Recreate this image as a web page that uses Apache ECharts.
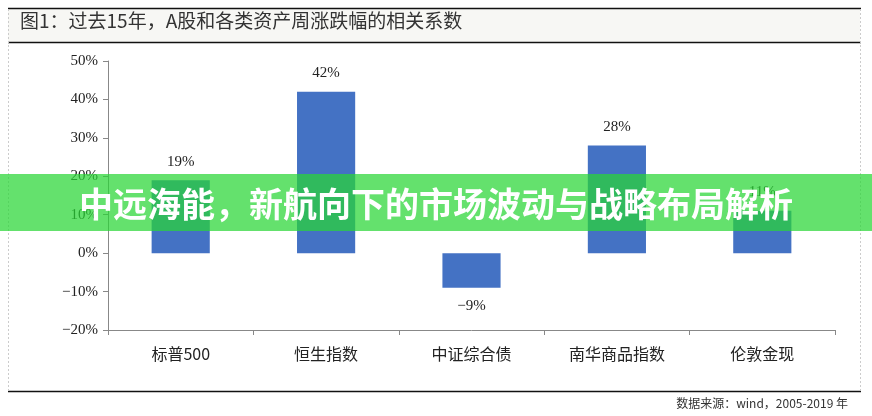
<!DOCTYPE html>
<html><head><meta charset="utf-8">
<script src="https://cdn.jsdelivr.net/npm/echarts@6/dist/echarts.min.js"></script>
<style>html,body{margin:0;padding:0;background:#fff}#c{width:872px;height:416px}</style>
</head><body><div id="c"></div>
<script>
var categories = ['标普500', '恒生指数', '中证综合债', '南华商品指数', '伦敦金现'];
var values = [19, 42, -9, 28, 11];
var yTicks = {min: -20, max: 50, interval: 10};
var titleText = '图1：过去15年，A股和各类资产周涨跌幅的相关系数';
var sourceText = '数据来源：wind，2005-2019 年';
var bannerText = '中远海能，新航向下的市场波动与战略布局解析';

var chart = echarts.init(document.getElementById('c'), null, {renderer: 'canvas'});
var serif = '"Liberation Serif","DejaVu Serif",serif';
var cjk = '"Noto Sans CJK SC","Liberation Serif",sans-serif';
function pct(v) { return (v < 0 ? '\u2212' + Math.abs(v) : String(v)) + '%'; }

var data = values.map(function (v) {
  return {value: v, label: {position: v < 0 ? 'bottom' : 'top'}};
});

chart.setOption({
  animation: false,
  backgroundColor: '#fff',
  grid: {left: 108, right: 37, top: 61, bottom: 86, containLabel: false},
  xAxis: [{
    type: 'category', data: categories, position: 'bottom',
    axisLine: {show: false}, axisTick: {show: false},
    axisLabel: {margin: 16, fontSize: 16, color: '#222', fontFamily: cjk}
  }, {
    type: 'category', data: categories, position: 'bottom',
    axisLine: {show: true, onZero: true, lineStyle: {color: '#888', width: 1}},
    axisTick: {show: true, inside: false, length: 5, lineStyle: {color: '#888'}},
    axisLabel: {show: false}
  }],
  yAxis: {
    type: 'value', min: yTicks.min, max: yTicks.max, interval: yTicks.interval,
    axisLine: {show: true, lineStyle: {color: '#888'}},
    axisTick: {show: true, length: 5, lineStyle: {color: '#888'}},
    splitLine: {show: false},
    axisLabel: {formatter: pct, fontSize: 15, color: '#222', margin: 10, fontFamily: serif}
  },
  series: [{
    type: 'bar', xAxisIndex: 0, data: data, barWidth: '40%',
    itemStyle: {color: '#4472C4'},
    label: {show: true, formatter: function (p) { return pct(p.value); }, fontSize: 15, color: '#222', fontFamily: serif, distance: 11}
  }],
  graphic: [
    {type: 'rect', z: -1, shape: {x: 8, y: 9, width: 852, height: 33}, style: {fill: '#f7f7f4'}},
    {type: 'line', shape: {x1: 8, y1: 8.5, x2: 861, y2: 8.5}, style: {stroke: '#111', lineWidth: 1.5}},
    {type: 'line', shape: {x1: 8, y1: 42.5, x2: 861, y2: 42.5}, style: {stroke: '#111', lineWidth: 1.5}},
    {type: 'line', shape: {x1: 8, y1: 391.5, x2: 861, y2: 391.5}, style: {stroke: '#111', lineWidth: 1.5}},
    {type: 'line', shape: {x1: 8.5, y1: 9, x2: 8.5, y2: 392}, style: {stroke: '#ccc', lineWidth: 1, lineDash: [2, 2]}},
    {type: 'line', shape: {x1: 860.5, y1: 9, x2: 860.5, y2: 392}, style: {stroke: '#ccc', lineWidth: 1, lineDash: [2, 2]}},
    {type: 'text', left: 20, top: 11, style: {text: titleText, fontSize: 19, fill: '#333', fontFamily: cjk}},
    {type: 'text', right: 24, top: 397, style: {text: sourceText, fontSize: 12, fill: '#333', fontFamily: cjk}},
    {type: 'rect', z: 100, shape: {x: 0, y: 174, width: 872, height: 57}, style: {fill: 'rgba(40,214,52,0.72)'}},
    {type: 'text', z: 101, left: 'center', top: 187, style: {text: bannerText, fontSize: 34, fontWeight: 'bold', fill: '#fff', fontFamily: cjk}}
  ]
});
</script></body></html>
